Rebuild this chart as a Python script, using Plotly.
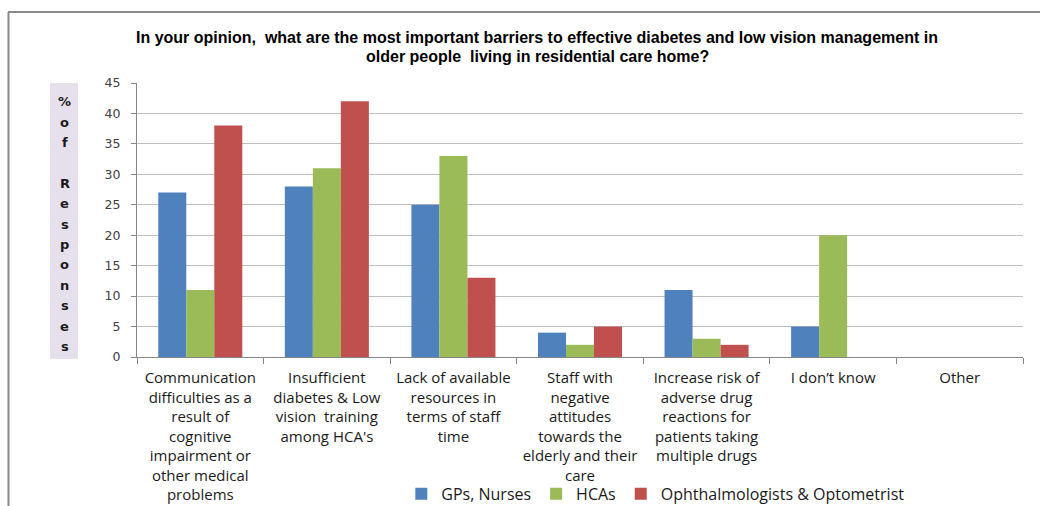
import plotly.graph_objects as go

# Survey categories (x-axis), wrapped as they appear under the axis
categories = [
    "Communication<br>difficulties as a<br>result of<br>cognitive<br>impairment or<br>other medical<br>problems",
    "Insufficient<br>diabetes & Low<br>vision  training<br>among HCA's",
    "Lack of available<br>resources in<br>terms of staff<br>time",
    "Staff with<br>negative<br>attitudes<br>towards the<br>elderly and their<br>care",
    "Increase risk of<br>adverse drug<br>reactions for<br>patients taking<br>multiple drugs",
    "I don\u2019t know",
    "Other",
]

series_names = ["GPs, Nurses", "HCAs", "Ophthalmologists & Optometrist"]
gps_nurses = [27, 28, 25, 4, 11, 5, 0]
hcas = [11, 31, 33, 2, 3, 20, 0]
ophthalmologists = [38, 42, 13, 5, 2, 0, 0]
series_values = [gps_nurses, hcas, ophthalmologists]
series_colors = ["#4F81BD", "#9BBB59", "#C0504D"]

y_ticks = list(range(0, 50, 5))
y_label_letters = ["%", "o", "f", "", "R", "e", "s", "p", "o", "n", "s", "e", "s"]

title_lines = [
    "In your opinion,  what are the most important barriers to effective diabetes and low vision management in",
    "older people  living in residential care home?",
]

W, H = 1040, 506
L, R, T, B = 137, 17, 83, 149

fig = go.Figure()
for name, vals, col in zip(series_names, series_values, series_colors):
    fig.add_trace(go.Bar(
        x=categories, y=vals, name=name,
        marker=dict(color=col, line=dict(width=0)),
    ))

label_font = "Open Sans, Noto Sans, sans-serif"

fig.update_layout(
    width=W, height=H,
    margin=dict(l=L, r=R, t=T, b=B, autoexpand=False),
    paper_bgcolor="white", plot_bgcolor="white",
    barmode="group", bargap=0.336, bargroupgap=0,
    showlegend=True,
    legend=dict(
        orientation="h", x=0.585, xanchor="center", y=-0.499, yanchor="middle",
        font=dict(family=label_font, size=16, color="#1a1a1a"),
        itemwidth=30, traceorder="normal", bgcolor="rgba(0,0,0,0)",
    ),
    xaxis=dict(
        showline=True, linecolor="#868686", linewidth=1,
        ticks="outside", tickson="boundaries", ticklen=6, tickcolor="#868686",
        tickfont=dict(family=label_font, size=15, color="#1a1a1a"),
        ticklabelstandoff=7,
        showgrid=False, tickangle=0,
    ),
    yaxis=dict(
        range=[0, 45], tickvals=y_ticks,
        showline=True, linecolor="#868686", linewidth=1,
        ticks="outside", ticklen=5, tickcolor="#868686",
        gridcolor="#BEBEBE", gridwidth=1,
        tickfont=dict(family="DejaVu Sans, Verdana, sans-serif", size=12.5, color="#404040"),
        ticklabelstandoff=8,
        zeroline=False,
    ),
    font=dict(family=label_font),
)

plot_h = H - T - B
plot_w = W - L - R
def px_x(px):
    return (px - L) / plot_w
def px_y(py):
    return 1 - (py - T) / plot_h

# Title, two bold lines
title_font = dict(family="Liberation Sans Narrow, Arial Narrow, Liberation Sans, sans-serif",
                  size=16, color="black")
for i, line in enumerate(title_lines):
    fig.add_annotation(
        text="<b>" + line + "</b>", xref="paper", yref="paper",
        x=px_x(537), y=px_y(37.5 + i * 19),
        xanchor="center", yanchor="middle", showarrow=False, font=title_font,
    )

# Y-axis label box with stacked letters
fig.add_shape(
    type="rect", xref="paper", yref="paper",
    x0=px_x(50), x1=px_x(78), y0=px_y(359), y1=px_y(83),
    fillcolor="#E6E0EC", line=dict(width=0), layer="below",
)
for i, ch in enumerate(y_label_letters):
    if not ch:
        continue
    fig.add_annotation(
        text="<b>" + ch + "</b>", xref="paper", yref="paper",
        x=px_x(64.5), y=px_y(101.7 + i * 20.4),
        xanchor="center", yanchor="middle", showarrow=False,
        font=dict(family="DejaVu Sans, Verdana, sans-serif", size=13, color="#1a1a1a"),
    )

# Outer chart frame (top and left edges)
fig.add_shape(type="line", xref="paper", yref="paper",
              x0=px_x(8), x1=px_x(1040), y0=px_y(12), y1=px_y(12),
              line=dict(color="#8a8a8a", width=2))
fig.add_shape(type="line", xref="paper", yref="paper",
              x0=px_x(8.5), x1=px_x(8.5), y0=px_y(12), y1=px_y(506),
              line=dict(color="#8a8a8a", width=2))

fig.write_html("out.html")
